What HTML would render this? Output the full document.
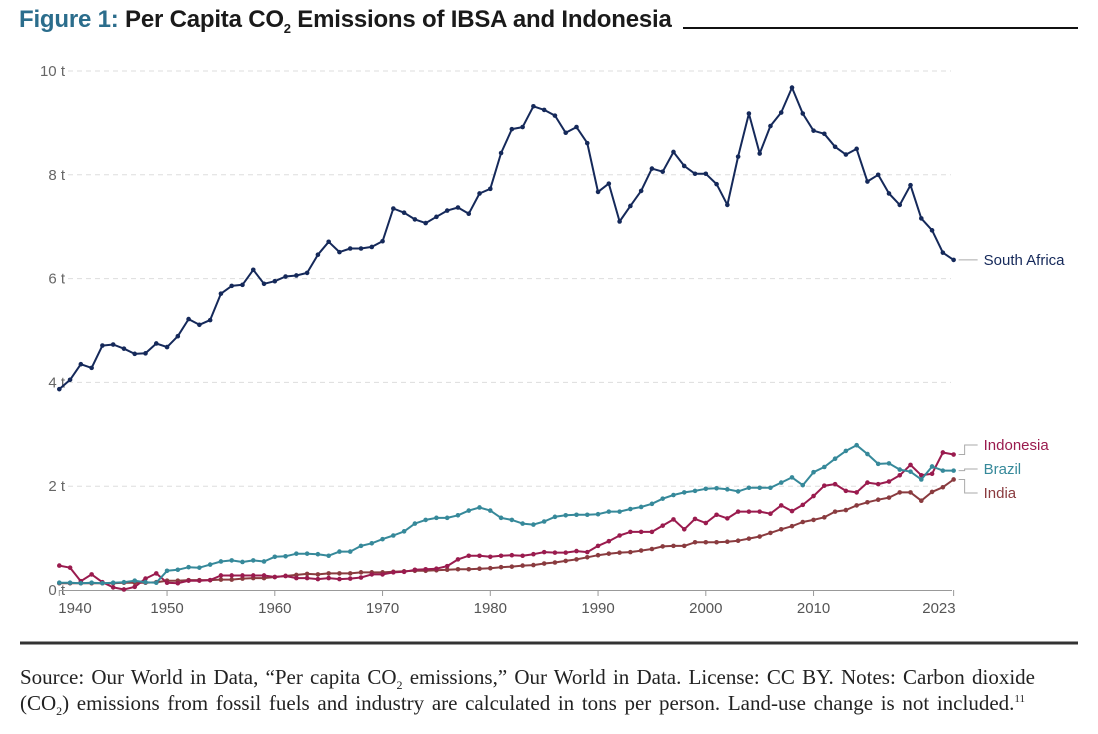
<!DOCTYPE html>
<html><head><meta charset="utf-8">
<style>
body{margin:0;background:#fff;width:1098px;height:734px;overflow:hidden;position:relative;font-family:"Liberation Sans",sans-serif}
#title{position:absolute;left:19px;top:6px;font-size:24px;font-weight:bold;color:#1a1a1a;white-space:nowrap;letter-spacing:-0.2px}
#title .fig{color:#2b6d8c}
#note{position:absolute;left:20px;top:664px;font-family:"Liberation Serif",serif;font-size:21px;line-height:26px;color:#222}
#note div{text-align:justify;text-align-last:justify;white-space:nowrap;height:26px}
.s{font-size:12px;position:relative;top:5px;line-height:0;vertical-align:baseline}
.u{font-size:11px;position:relative;top:-8px;line-height:0;vertical-align:baseline}
</style></head><body>
<div id="title"><span class="fig">Figure 1:</span> Per Capita CO<sub style="font-size:13px">2</sub> Emissions of IBSA and Indonesia</div>
<svg id="chart" width="1098" height="734" style="position:absolute;left:0;top:0"></svg>
<div id="note">
<div style="width:1015px">Source: Our World in Data, “Per capita CO<span class="s">2</span> emissions,” Our World in Data. License: CC BY. Notes: Carbon dioxide</div>
<div style="width:1005px">(CO<span class="s">2</span>) emissions from fossil fuels and industry are calculated in tons per person. Land-use change is not included.<span class="u">11</span></div>
</div>
<script>
const startYear = 1940;
const xTickYears = [1940,1950,1960,1970,1980,1990,2000,2010,2023];
const yTicks = [0,2,4,6,8,10];
const southAfrica = [3.87,4.05,4.35,4.28,4.71,4.73,4.65,4.55,4.56,4.75,4.68,4.89,5.22,5.11,5.20,5.71,5.86,5.88,6.17,5.90,5.95,6.04,6.06,6.11,6.46,6.71,6.51,6.58,6.58,6.61,6.72,7.35,7.27,7.14,7.07,7.19,7.31,7.37,7.25,7.64,7.73,8.42,8.88,8.92,9.32,9.25,9.14,8.81,8.92,8.61,7.67,7.83,7.10,7.40,7.69,8.12,8.06,8.44,8.17,8.02,8.02,7.82,7.42,8.35,9.18,8.41,8.94,9.20,9.68,9.18,8.85,8.79,8.54,8.39,8.50,7.87,8.00,7.64,7.42,7.80,7.16,6.93,6.50,6.36];
const brazil = [0.14,0.14,0.13,0.14,0.13,0.14,0.15,0.18,0.15,0.14,0.37,0.39,0.44,0.43,0.49,0.55,0.57,0.54,0.57,0.55,0.64,0.65,0.70,0.70,0.69,0.66,0.74,0.74,0.85,0.90,0.98,1.05,1.13,1.28,1.35,1.39,1.39,1.44,1.53,1.59,1.53,1.39,1.35,1.28,1.26,1.32,1.41,1.44,1.45,1.45,1.46,1.51,1.51,1.56,1.60,1.66,1.76,1.83,1.88,1.91,1.95,1.96,1.94,1.90,1.97,1.97,1.97,2.07,2.17,2.02,2.27,2.37,2.53,2.68,2.79,2.62,2.43,2.44,2.32,2.28,2.13,2.38,2.30,2.30];
const indonesia = [0.47,0.43,0.17,0.30,0.15,0.05,0.01,0.06,0.22,0.32,0.14,0.13,0.18,0.18,0.19,0.28,0.28,0.28,0.28,0.28,0.25,0.27,0.23,0.23,0.21,0.23,0.21,0.22,0.24,0.30,0.30,0.34,0.35,0.39,0.40,0.41,0.46,0.59,0.66,0.66,0.64,0.66,0.67,0.66,0.69,0.73,0.72,0.72,0.75,0.73,0.85,0.94,1.05,1.12,1.12,1.12,1.24,1.36,1.17,1.37,1.29,1.45,1.38,1.51,1.51,1.51,1.47,1.63,1.52,1.64,1.81,2.01,2.04,1.91,1.88,2.07,2.04,2.09,2.21,2.41,2.21,2.24,2.65,2.61];
const india = [0.13,0.13,0.13,0.13,0.13,0.13,0.14,0.14,0.14,0.15,0.18,0.18,0.19,0.19,0.19,0.20,0.20,0.22,0.23,0.23,0.25,0.27,0.29,0.31,0.30,0.32,0.32,0.32,0.34,0.34,0.34,0.35,0.36,0.37,0.37,0.38,0.39,0.40,0.40,0.41,0.42,0.44,0.45,0.47,0.48,0.51,0.53,0.56,0.59,0.63,0.67,0.70,0.72,0.73,0.76,0.79,0.84,0.85,0.85,0.92,0.92,0.92,0.93,0.95,0.99,1.03,1.10,1.17,1.23,1.31,1.35,1.40,1.51,1.54,1.63,1.69,1.74,1.78,1.88,1.88,1.72,1.89,1.98,2.13];

const NS='http://www.w3.org/2000/svg';
const svg=document.getElementById('chart');
const X0=59.3, PX=10.775, Y0=590, PY=51.9;
const xs=y=>X0+(y-startYear)*PX;
const ys=v=>Y0-v*PY;
function mk(tag,attrs,parent){const e=document.createElementNS(NS,tag);for(const k in attrs)e.setAttribute(k,attrs[k]);(parent||svg).appendChild(e);return e;}

let r=mk('line',{x1:683,y1:28,x2:1078,y2:28,stroke:'#111','stroke-width':2});


r=mk('line',{x1:20,y1:643,x2:1078,y2:643,stroke:'#333','stroke-width':3});



yTicks.forEach(t=>{
  const y=ys(t);
  if(t>0){const g=mk('line',{x1:68,y1:y,x2:951,y2:y,stroke:'#ddd','stroke-dasharray':'5,4','stroke-width':1});
  
  }
  const tx=mk('text',{x:65,y:y+5,'text-anchor':'end','font-size':15,fill:'#666'});
  tx.textContent=t+' t';
  
  
});
const ax=mk('line',{x1:59,y1:590.5,x2:952,y2:590.5,stroke:'#999','stroke-width':1});


xTickYears.forEach((yr,i)=>{
  const x=xs(yr);
  const tk=mk('line',{x1:x,y1:590,x2:x,y2:596,stroke:'#999','stroke-width':1});
  
  
  const tx=mk('text',{x:i===0?x-1:x,y:613,'text-anchor':i===0?'start':(i===xTickYears.length-1?'end':'middle'),'font-size':15,fill:'#555'});
  if(i===xTickYears.length-1) tx.setAttribute('x',x+2);
  tx.textContent=yr;
  
  
});

function series(data,color,name){
  const g=mk('g',{});
  
  
  const pts=data.map((v,i)=>xs(startYear+i).toFixed(1)+','+ys(v).toFixed(1)).join(' ');
  const pl=mk('polyline',{points:pts,fill:'none',stroke:color,'stroke-width':2,'stroke-linejoin':'round'},g);
  
  
  data.forEach((v,i)=>{
    const c=mk('circle',{cx:xs(startYear+i),cy:ys(v),r:2.3,fill:color},g);
    
    
  });
}
series(india,'#8a3b3f','india');
series(indonesia,'#9a1b4e','indonesia');
series(brazil,'#36899a','brazil');
series(southAfrica,'#15295a','south-africa');

const lastX=xs(startYear+southAfrica.length-1);
function label(text,color,vy,ly,name){
  const y0=ys(vy);
  const p=mk('polyline',{points:`${lastX+5},${y0} ${lastX+11},${y0} ${lastX+11},${ly} ${lastX+24},${ly}`,fill:'none',stroke:'#aaa','stroke-width':1});
  
  
  const t=mk('text',{x:lastX+30,y:ly+5,'font-size':15,fill:color});
  t.textContent=text;
  
  
}
label('South Africa','#15295a',southAfrica[southAfrica.length-1],ys(southAfrica[southAfrica.length-1]),'south-africa');
label('Indonesia','#9a1b4e',indonesia[indonesia.length-1],445,'indonesia');
label('Brazil','#36899a',brazil[brazil.length-1],469,'brazil');
label('India','#8a3b3f',india[india.length-1],493,'india');
</script>
</body></html>
